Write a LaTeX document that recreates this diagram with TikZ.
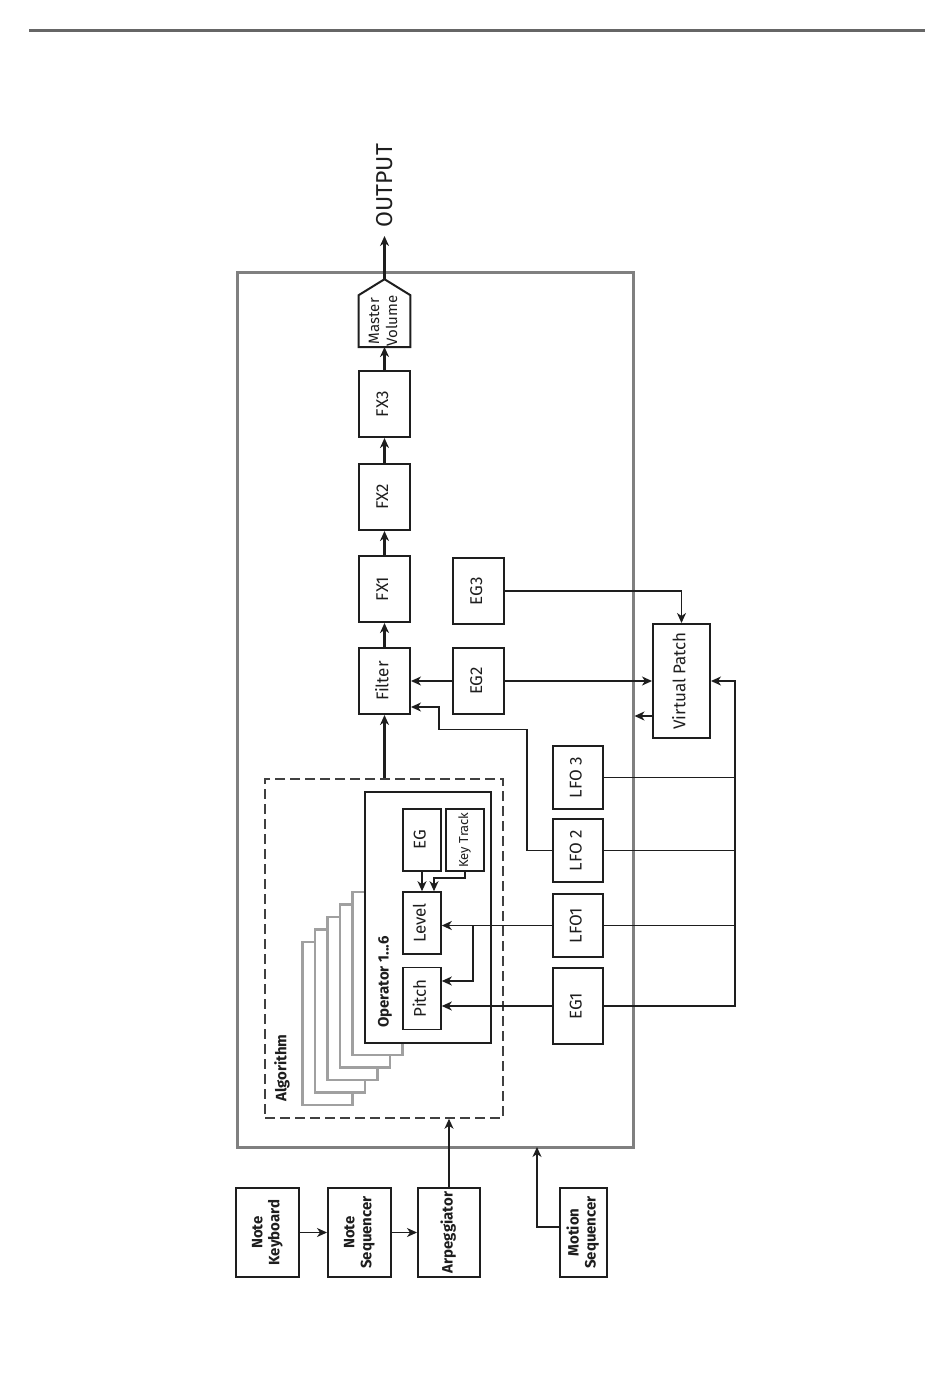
\documentclass[tikz,border=0pt]{standalone}
\usepackage{fontspec}
\setmainfont{Fira Sans}
\usetikzlibrary{arrows.meta,positioning,calc}
\definecolor{framegray}{RGB}{128,128,128}
\definecolor{stackgray}{RGB}{160,160,160}
\definecolor{rulegray}{RGB}{102,102,102}
\definecolor{inkcolor}{RGB}{30,30,30}
\newcommand{\vlabel}[1]{\rotatebox{90}{\begin{tabular}{@{}c@{}}#1\end{tabular}}}

\begin{document}
\begin{tikzpicture}[x=0.5pt, y=-0.5pt,
  box/.style={rectangle, draw=inkcolor, line width=1pt, fill=white,
              inner sep=0pt, text=inkcolor, font=\fontsize{8.5}{9}\selectfont},
  fxbox/.style={box, minimum width=25.5pt, minimum height=33pt},
  modbox/.style={box, minimum width=25pt, minimum height=31.5pt},
  opbox/.style={box, line width=0.8pt, minimum width=19pt, minimum height=31pt},
  srcbox/.style={box, minimum height=44.5pt, font=\bfseries\fontsize{7.5}{8.5}\selectfont},
  stack/.style={draw=stackgray, line width=1.3pt, fill=white},
  sig/.style={-{Stealth[length=5pt,width=4.5pt,inset=1.5pt]}, line width=1.2pt, color=inkcolor},
  arr/.style={-{Stealth[length=5pt,width=4.5pt,inset=1.5pt]}, line width=0.7pt, color=inkcolor},
  wire/.style={line width=0.7pt, color=inkcolor},
  lbl/.style={font=\bfseries\fontsize{7.5}{8.5}\selectfont, text=inkcolor, inner sep=0pt}
]
\useasboundingbox (0,0) rectangle (950,1383);

% Rule on top
\draw[line width=1.5pt, rulegray] (29,30.7) -- (925,30.7);

% Outer frame
\node[draw=framegray, line width=1.5pt, minimum width=198pt, minimum height=437.5pt,
      inner sep=0pt] (frame) at (435,709.5) {};

% Algorithm area
\node[draw=inkcolor!85, dash pattern=on 5pt off 2.5pt, line width=0.75pt,
      minimum width=119pt, minimum height=169.5pt, inner sep=0pt] (alg) at (384,948.5) {};
\node[lbl] at (282,1068) {\rotatebox{90}{Algorithm}};

% Operator stack
\foreach \i in {5,...,1}
  \draw[stack] (365-12.5*\i, 879.5+12.5*\i) rectangle ++(50,163);
\node[box, line width=1.4pt, minimum width=63pt, minimum height=125.5pt] (op) at (428,917.5) {};
\node[lbl] at (385,982) {\rotatebox{90}{Operator 1...6}};
\node[opbox] (eg) at (422,840) {\vlabel{EG}};
\node[opbox, font=\fontsize{6.5}{8}\selectfont] (kt) at (465,840) {\vlabel{Key Track}};
\node[opbox] (lvl) at (422,923) {\vlabel{Level}};
\node[opbox] (pitch) at (422,998.5) {\vlabel{Pitch}};

% Signal chain
\node[fxbox] (filter) at (384.5,681) {\vlabel{Filter}};
\node[fxbox, above=12pt of filter] (fx1) {\vlabel{FX1}};
\node[fxbox, above=12pt of fx1] (fx2) {\vlabel{FX2}};
\node[fxbox, above=12.5pt of fx2] (fx3) {\vlabel{FX3}};
\node[minimum width=25.5pt, minimum height=25.5pt, inner sep=0pt, text=inkcolor,
      font=\fontsize{7.5}{9}\selectfont, above=11.5pt of fx3] (mv) {\vlabel{Master\\Volume}};
\coordinate (mvtip) at ($(mv.north)+(0,-16)$);
\draw[line width=1pt, inkcolor] (mv.south west) -- (mv.north west) -- (mvtip)
  -- (mv.north east) -- (mv.south east) -- cycle;
\node[font=\fontsize{11.5}{13}\selectfont, text=inkcolor, inner sep=4pt, anchor=south]
  (out) at (384.5,236) {\rotatebox{90}{OUTPUT}};

\draw[sig] (filter.south |- alg.north) -- (filter.south);
\draw[sig] (filter) -- (fx1);
\draw[sig] (fx1) -- (fx2);
\draw[sig] (fx2) -- (fx3);
\draw[sig] (fx3) -- (mv.south);
\draw[sig] (mvtip) -- (out.south);

% Modulation sources
\node[fxbox] (eg3) at (478.5,591) {\vlabel{EG3}};
\node[fxbox] (eg2) at (478.5,681) {\vlabel{EG2}};
\node[box, minimum width=28.5pt, minimum height=57pt] (vp) at (681.5,681) {\vlabel{Virtual Patch}};
\node[modbox] (lfo3) at (578,777.5) {\vlabel{LFO 3}};
\node[modbox, below=4pt of lfo3] (lfo2) {\vlabel{LFO 2}};
\node[modbox, below=5pt of lfo2] (lfo1) {\vlabel{LFO1}};
\node[modbox, minimum height=38pt, below=4.5pt of lfo1] (eg1) {\vlabel{EG1}};

\draw[arr] (eg2) -- (filter);
\draw[arr] (eg2) -- (vp);
\draw[arr] (eg3) -| (vp.north);
\draw[arr] (lfo2.west) -- ++(-25,0) |- ++(-88,-121) |- ($(filter.east)+(0,26)$);
\draw[arr] ([yshift=-17.5pt]vp.west) -- ([yshift=-17.5pt]vp.west -| frame.east);

% Bus into Virtual Patch
\coordinate (bus) at (735,681);
\draw[arr] (eg1.east) -| (bus) -- (vp.east);
\foreach \src in {lfo1,lfo2,lfo3}
  \draw[wire] (\src.east) -- (\src.east -| bus);

% Operator inputs
\draw[arr] (lfo1.west) -- (lfo1.west -| lvl.east);
\coordinate (split) at ($(lfo1.west -| lvl.east)+(31,0)$);
\draw[arr] (split) |- ($(pitch.east)+(0,-17.5)$);
\draw[arr] (eg1.west) -- (eg1.west -| pitch.east);
\draw[arr] (eg) -- (lvl);
\draw[arr] (kt.south) -- ++(0,6) -| ($(lvl.north)+(12,0)$);

% Note sources
\node[srcbox, minimum width=31.5pt] (nk) at (267.5,1232.5) {\vlabel{Note\\Keyboard}};
\node[srcbox, minimum width=31.5pt, right=13.5pt of nk] (ns) {\vlabel{Note\\Sequencer}};
\node[srcbox, minimum width=31pt, right=12.5pt of ns] (arp) {\vlabel{Arpeggiator}};
\node[srcbox, minimum width=23.5pt] (ms) at (583.5,1232.5) {\vlabel{Motion\\Sequencer}};
\coordinate (msin) at (537,1147);

\draw[arr] (nk) -- (ns);
\draw[arr] (ns) -- (arp);
\draw[arr] (arp.north) -- (arp.north |- alg.south);
\draw[arr] ([yshift=2.75pt]ms.west) -| (msin);
\end{tikzpicture}
\end{document}
